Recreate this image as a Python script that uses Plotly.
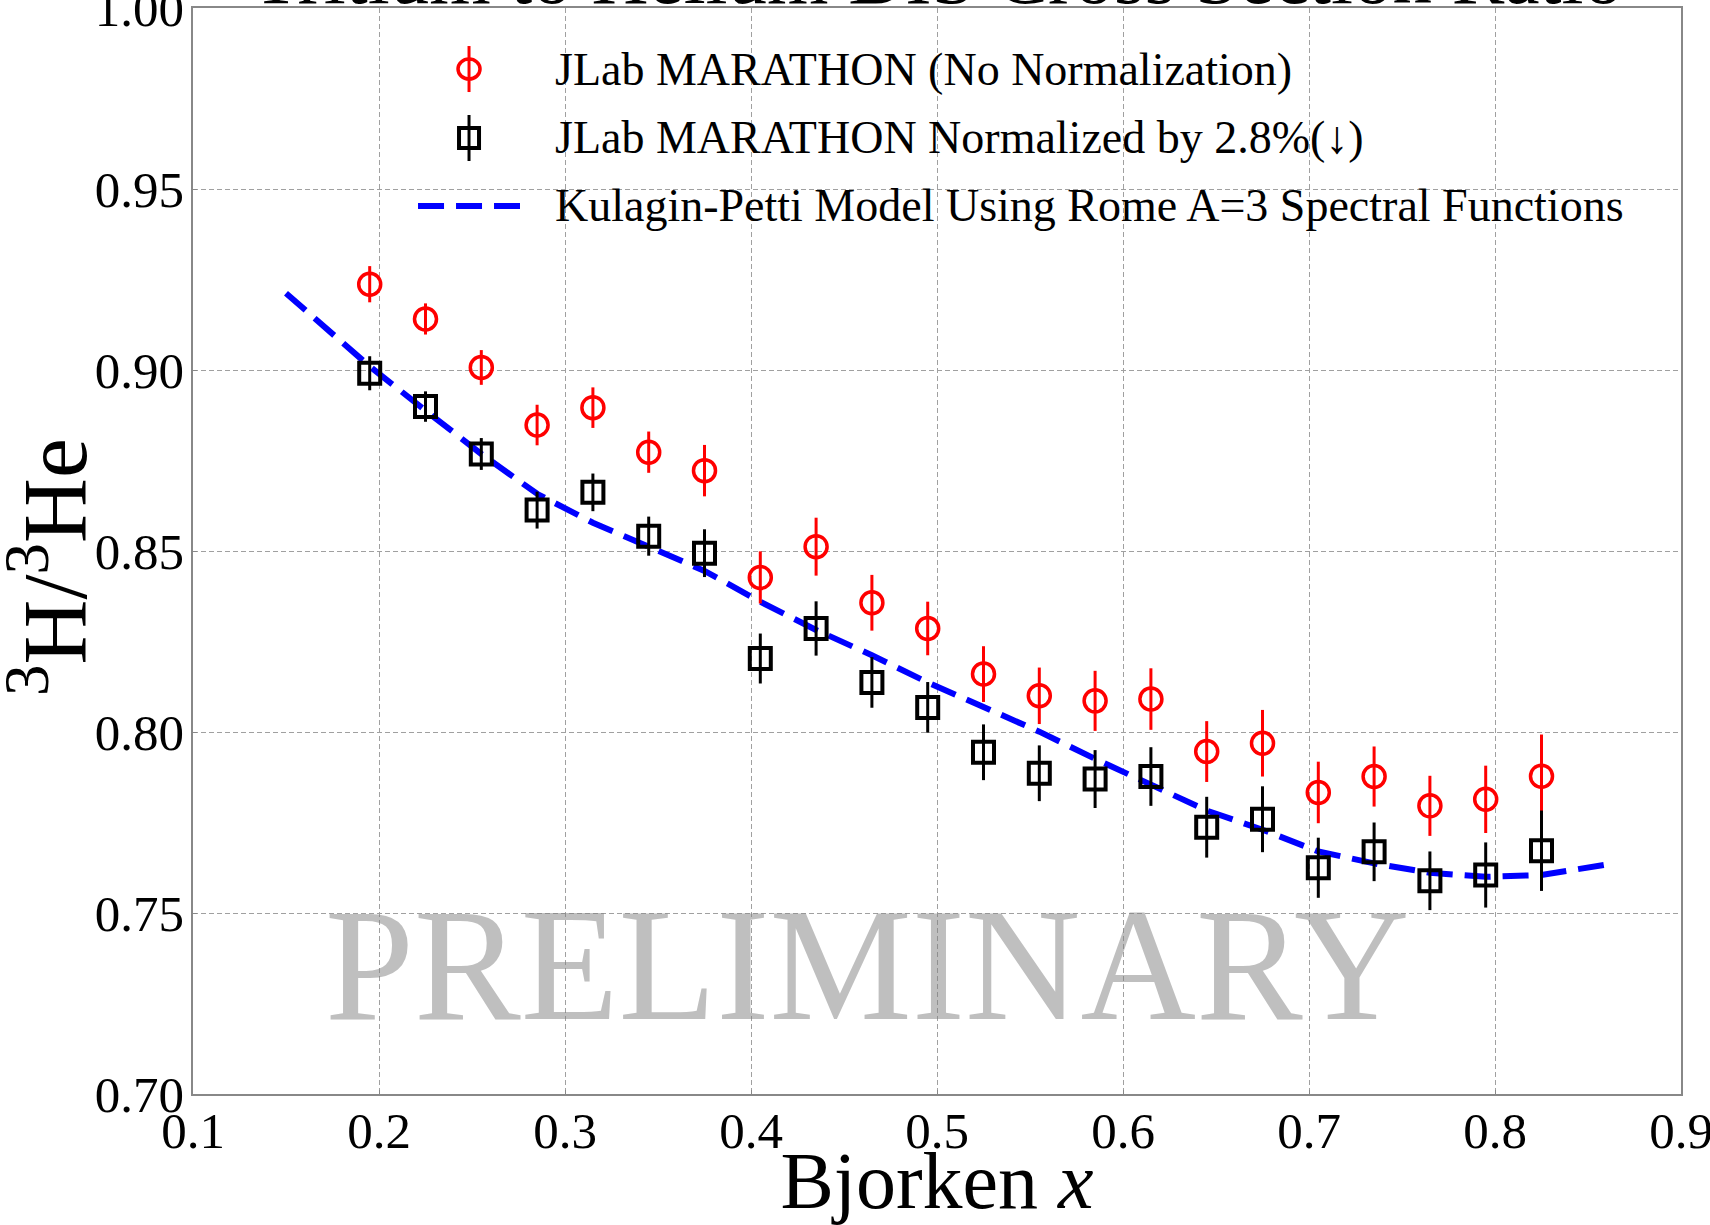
import plotly.graph_objects as go

# Bjorken x bins of the measurement
x_bins = [0.195, 0.225, 0.255, 0.285, 0.315, 0.345, 0.375, 0.405, 0.435, 0.465, 0.495,
          0.525, 0.555, 0.585, 0.615, 0.645, 0.675, 0.705, 0.735, 0.765, 0.795, 0.825]

# 3H/3He ratio, no normalization applied
ratio_raw = [0.9237, 0.9141, 0.9007, 0.8848, 0.8896, 0.8773, 0.8722, 0.8427, 0.8512, 0.8357, 0.8286,
             0.8160, 0.8100, 0.8086, 0.8091, 0.7946, 0.7969, 0.7833, 0.7877, 0.7796, 0.7814, 0.7878]
err_raw = [0.0050, 0.0043, 0.0048, 0.0056, 0.0056, 0.0057, 0.0071, 0.0072, 0.0080, 0.0077, 0.0074,
           0.0077, 0.0078, 0.0083, 0.0085, 0.0084, 0.0092, 0.0085, 0.0083, 0.0083, 0.0093, 0.0115]

# 3H/3He ratio normalized down by 2.8%
ratio_norm = [0.8991, 0.8899, 0.8768, 0.8613, 0.8662, 0.8541, 0.8494, 0.8203, 0.8286, 0.8137, 0.8068,
              0.7944, 0.7886, 0.7870, 0.7877, 0.7737, 0.7759, 0.7625, 0.7669, 0.7589, 0.7605, 0.7672]
err_norm = [0.0047, 0.0042, 0.0044, 0.0051, 0.0052, 0.0054, 0.0066, 0.0069, 0.0075, 0.0070, 0.0070,
            0.0077, 0.0077, 0.0080, 0.0081, 0.0084, 0.0091, 0.0083, 0.0081, 0.0081, 0.0090, 0.0111]

# Kulagin-Petti model curve
model_x = [0.150, 0.195, 0.225, 0.255, 0.285, 0.315, 0.345, 0.375, 0.405, 0.435, 0.465, 0.495,
           0.525, 0.555, 0.585, 0.615, 0.645, 0.675, 0.705, 0.735, 0.765, 0.795, 0.825, 0.860]
model_y = [0.9212, 0.9010, 0.8888, 0.8768, 0.8658, 0.8578, 0.8512, 0.8445, 0.8360, 0.8282, 0.8212, 0.8137,
           0.8069, 0.8001, 0.7926, 0.7854, 0.7783, 0.7730, 0.7670, 0.7637, 0.7611, 0.7600, 0.7605, 0.7634]

x_ticks = [0.1, 0.2, 0.3, 0.4, 0.5, 0.6, 0.7, 0.8, 0.9]
y_ticks = [0.70, 0.75, 0.80, 0.85, 0.90, 0.95, 1.00]

legend_labels = ["JLab MARATHON (No Normalization)",
                 "JLab MARATHON Normalized by 2.8%(\u2193)",
                 "Kulagin-Petti Model Using Rome A=3 Spectral Functions"]

SERIF = "Liberation Serif"
RED = "#ff0000"
BLUE = "#0000ff"

fig = go.Figure()

fig.add_trace(go.Scatter(
    x=model_x, y=model_y, mode="lines",
    line=dict(color=BLUE, width=6, dash="26px,12px"),
    showlegend=False,
))

fig.add_trace(go.Scatter(
    x=x_bins, y=ratio_raw, mode="markers",
    marker=dict(symbol="circle-open", size=22, color=RED, line=dict(width=3.5, color=RED)),
    error_y=dict(type="data", array=err_raw, color=RED, thickness=3, width=0),
    showlegend=False,
))

fig.add_trace(go.Scatter(
    x=x_bins, y=ratio_norm, mode="markers",
    marker=dict(symbol="square-open", size=21, color="black", line=dict(width=4, color="black")),
    error_y=dict(type="data", array=err_norm, color="black", thickness=3, width=0),
    showlegend=False,
))

# hand-built legend (glyphs with error bars, transparent background)
leg_x = 0.1855
leg_rows = [0.9438, 0.8803, 0.8177]
text_x = 0.2419
shapes = []
anchor = dict(xref="paper", yref="paper", xsizemode="pixel", ysizemode="pixel",
              xanchor=leg_x, layer="above")
# red circle with bar
shapes.append(dict(type="line", yanchor=leg_rows[0], x0=0, x1=0, y0=-23, y1=23,
                   line=dict(color=RED, width=3), **anchor))
shapes.append(dict(type="circle", yanchor=leg_rows[0], x0=-11, x1=11, y0=-10, y1=10,
                   line=dict(color=RED, width=3.5), **anchor))
# black square with bar
shapes.append(dict(type="line", yanchor=leg_rows[1], x0=0, x1=0, y0=-23, y1=23,
                   line=dict(color="black", width=3), **anchor))
shapes.append(dict(type="rect", yanchor=leg_rows[1], x0=-10, x1=10, y0=-10, y1=10,
                   line=dict(color="black", width=4), **anchor))
# blue dashed line
shapes.append(dict(type="line", yanchor=leg_rows[2], x0=-51, x1=51, y0=0, y1=0,
                   line=dict(color=BLUE, width=6, dash="26px,12px"), **anchor))

annotations = []
for lbl, ry in zip(legend_labels, leg_rows):
    annotations.append(dict(text=lbl, xref="paper", yref="paper", x=text_x, y=ry,
                            xanchor="left", yanchor="middle", showarrow=False,
                            font=dict(family=SERIF, size=46, color="black")))

# watermark
annotations.append(dict(text="PRELIMINARY", xref="x", yref="y", x=0.4624, y=0.7356,
                        xanchor="center", yanchor="middle", showarrow=False,
                        font=dict(family=SERIF, size=160, color="rgba(128,128,128,0.5)")))

# title sitting above the frame
annotations.append(dict(text="Tritium to Helium DIS Cross Section Ratio", xref="paper", yref="paper",
                        x=0.5, y=0.9872, xanchor="center", yanchor="bottom", showarrow=False,
                        font=dict(family=SERIF, size=79, color="black")))

# y-axis title, rotated
annotations.append(dict(text="<sup>3</sup>H/<sup>3</sup>He", xref="paper", yref="paper",
                        x=-0.0968, y=0.4853, xanchor="center", yanchor="middle", textangle=-90,
                        showarrow=False, font=dict(family=SERIF, size=90, color="black")))

axis_common = dict(
    showgrid=True, gridcolor="#a0a0a0", gridwidth=1.2, griddash="5px,3px",
    showline=True, linecolor="#888888", linewidth=1.5, mirror=True,
    ticks="inside", ticklen=4, tickcolor="#888888",
    tickfont=dict(family=SERIF, size=51, color="black"),
    ticklabeloverflow="allow",
    automargin=False,
    zeroline=False,
)

fig.update_layout(
    width=1710, height=1225,
    margin=dict(l=193, r=29, t=8, b=131, autoexpand=False),
    paper_bgcolor="white", plot_bgcolor="white",
    shapes=shapes, annotations=annotations,
    xaxis=dict(range=[0.1, 0.9], tickvals=x_ticks, ticktext=[f"{v:.1f}" for v in x_ticks],
               ticklabelstandoff=-9,
               title=dict(text="Bjorken <i>x</i>", font=dict(family=SERIF, size=80, color="black"),
                          standoff=14),
               **axis_common),
    yaxis=dict(range=[0.70, 1.00], tickvals=y_ticks, ticktext=[f"{v:.2f}" for v in y_ticks],
               ticklabelstandoff=-3,
               **axis_common),
    showlegend=False,
)

fig.write_html("out.html")
